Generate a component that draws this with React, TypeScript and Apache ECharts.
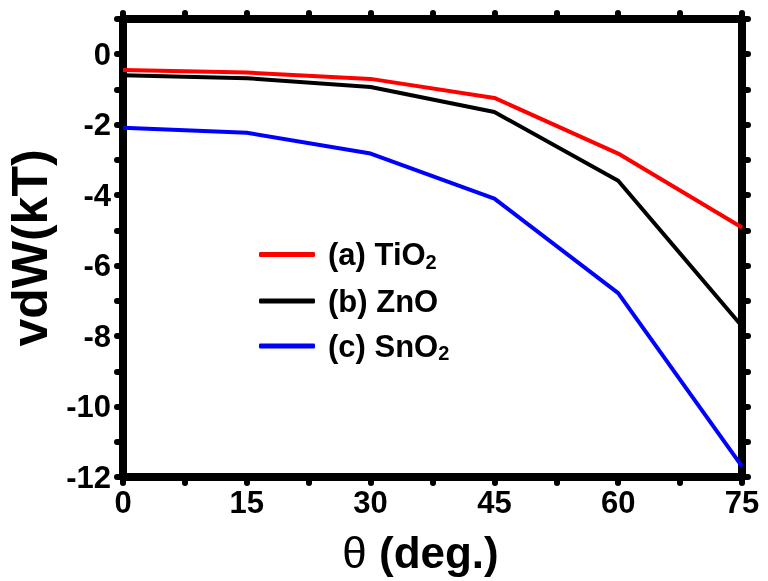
import React, { useEffect, useRef } from "react";
import * as echarts from "echarts";

const angles = [0, 15, 30, 45, 60, 75];
const tio2 = [-0.45, -0.52, -0.7, -1.24, -2.82, -4.92];
const zno = [-0.6, -0.68, -0.93, -1.64, -3.59, -7.72];
const sno2 = [-2.09, -2.23, -2.82, -4.1, -6.78, -11.7];
const seriesNames = ["(a) TiO{sub|2}", "(b) ZnO", "(c) SnO{sub|2}"];
const seriesKeys = ["TiO2", "ZnO", "SnO2"];
const colors = ["#ff0000", "#000000", "#0000ff"];

const FONT = "'Liberation Sans Narrow', 'Arial Narrow', 'Liberation Sans', sans-serif";

export default function App() {
  const ref = useRef<HTMLDivElement>(null);
  useEffect(() => {
    const chart = echarts.init(ref.current!, undefined, { renderer: "svg" });
    const tickStyle = { color: "#000", width: 6, cap: "round" };
    const axisCommon = (show: boolean) => ({
      axisLine: { show: true, onZero: false, lineStyle: { color: "#000", width: 8, cap: "round" } },
      axisTick: { show: true, inside: false, length: 6, lineStyle: tickStyle },
      minorTick: { show: true, splitNumber: 2, length: 6, lineStyle: tickStyle },
      splitLine: { show: false },
      axisLabel: {
        show,
        color: "#000",
        fontFamily: FONT,
        fontWeight: "bold",
        fontSize: 31,
      },
    });
    const datasets = [tio2, zno, sno2];
    chart.setOption({
      animation: false,
      grid: { left: 123, right: 26, top: 19, bottom: 104, containLabel: false, outerBoundsMode: "none" },
      legend: {
        left: 254,
        top: 234,
        orient: "vertical",
        itemWidth: 56,
        itemHeight: 5,
        itemGap: 14,
        icon: "roundRect",
        data: seriesKeys,
        formatter: (n: string) => seriesNames[seriesKeys.indexOf(n)],
        textStyle: {
          color: "#000",
          fontFamily: FONT,
          fontWeight: "bold",
          fontSize: 31,
          padding: [0, 0, 0, 8],
          rich: {
            sub: { fontSize: 20, fontFamily: FONT, fontWeight: "bold", verticalAlign: "bottom", padding: [14, 0, 0, 0] },
          },
        },
      },
      xAxis: [
        {
          type: "value",
          min: 0,
          max: 75,
          interval: 15,
          position: "bottom",
          name: "{t|θ} (deg.)",
          nameLocation: "middle",
          nameGap: 53,
          nameTextStyle: {
            color: "#000",
            fontFamily: FONT,
            fontWeight: "bold",
            fontSize: 44,
            padding: [0, 24, 0, 0],
            rich: {
              t: { fontFamily: "'Liberation Sans Narrow', 'Liberation Sans', sans-serif", fontWeight: "normal", fontSize: 44, color: "#000" },
            },
          },
          ...axisCommon(true),
          axisLabel: { ...axisCommon(true).axisLabel, margin: 10 },
        },
        {
          type: "value",
          min: 0,
          max: 75,
          interval: 15,
          position: "top",
          ...axisCommon(false),
        },
      ],
      yAxis: [
        {
          type: "value",
          min: -12,
          max: 1,
          interval: 2,
          position: "left",
          name: "vdW(kT)",
          nameLocation: "middle",
          nameGap: 68,
          nameTextStyle: { color: "#000", fontFamily: FONT, fontWeight: "bold", fontSize: 50 },
          ...axisCommon(true),
          axisLabel: {
            ...axisCommon(true).axisLabel,
            margin: 12,
            formatter: (v: number) => (v === 1 ? "" : String(v)),
          },
        },
        {
          type: "value",
          min: -12,
          max: 1,
          interval: 2,
          position: "right",
          ...axisCommon(false),
        },
      ],
      series: datasets.map((d, i) => ({
        name: seriesKeys[i],
        type: "line",
        data: angles.map((a, j) => [a, d[j]]),
        showSymbol: false,
        symbol: "none",
        lineStyle: { color: colors[i], width: 4 },
        itemStyle: { color: colors[i] },
        z: 1,
      })),
    });
    return () => chart.dispose();
  }, []);
  return <div ref={ref} style={{ position: "fixed", left: 0, top: 0, width: 768, height: 581 }} />;
}
